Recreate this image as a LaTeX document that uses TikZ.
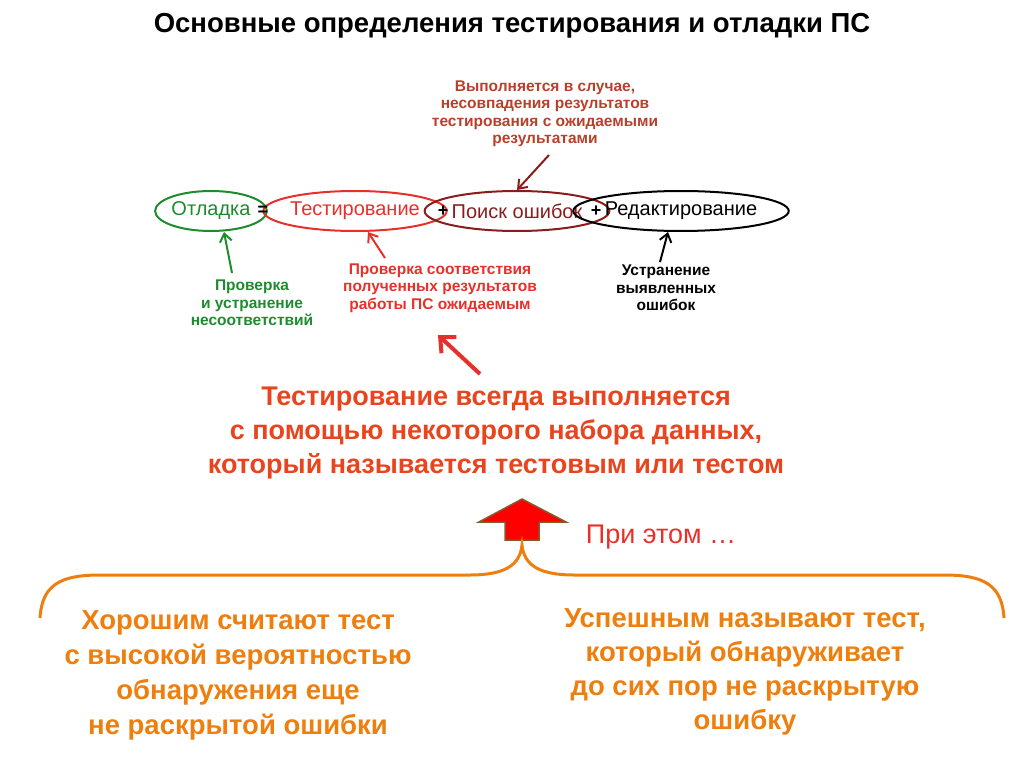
\documentclass[tikz,border=0pt]{standalone}
\usepackage{fontspec}
\setmainfont{Liberation Sans}
\usetikzlibrary{arrows.meta,shapes.geometric}
\definecolor{gr}{HTML}{1E8C2E}
\definecolor{rd}{HTML}{E8302A}
\definecolor{drd}{HTML}{8A1C1C}
\definecolor{ann}{HTML}{B8402A}
\definecolor{mainred}{HTML}{E8441E}
\definecolor{org}{HTML}{EE7F0E}
\tikzset{
 ell/.style={ellipse,draw,line width=2pt,minimum height=40pt,inner sep=0pt,font=\fontsize{20}{20}\selectfont},
 note/.style={align=center,font=\bfseries\fontsize{15.5}{17.5}\selectfont},
 arr/.style={-{Straight Barb[length=8pt,width=12pt]},line width=2pt},
 big/.style={align=center,font=\bfseries\fontsize{27}{34}\selectfont},
}
\begin{document}
\begin{tikzpicture}[x=1pt,y=-1pt]
\useasboundingbox (0,0) rectangle (1024,767);
\node[font=\bfseries\fontsize{27.5}{28}\selectfont] (title) at (512,26) {Основные определения тестирования и отладки ПС};
\node[ell,draw=gr,text=gr,minimum width=78pt] (otl) at (211,211) {Отладка};
\node[ell,draw=rd,text=rd,minimum width=145pt] (test) at (355,211) {Тестирование};
\node[ell,draw=drd,text=drd,minimum width=135pt] (poisk) at (517,211) {Поиск ошибок};
\node[ell,draw=black,minimum width=162pt] (red) at (681,211) {Редактирование};
\node[font=\bfseries\fontsize{18}{18}\selectfont] (eq) at (263,211) {=};
\node[font=\bfseries\fontsize{18}{18}\selectfont] (p1) at (443,211) {+};
\node[font=\bfseries\fontsize{18}{18}\selectfont] (p2) at (596,211) {+};
\node[note,text=ann] (n1) at (545,114) {Выполняется в случае,\\несовпадения результатов\\тестирования с ожидаемыми\\результатами};
\node[note,text=gr] (n2) at (252,303) {Проверка\\и устранение\\несоответствий};
\node[note,text=rd] (n3) at (440,288) {Проверка соответствия\\полученных результатов\\работы ПС ожидаемым};
\node[note] (n4) at (666,288) {Устранение\\выявленных\\ошибок};
\coordinate (a1) at (549,155); \coordinate (a2) at (232,273);
\coordinate (a3) at (385,258); \coordinate (a4) at (660,262);
\draw[arr,drd] (a1) -- (poisk.north);
\draw[arr,gr] (a2) -- ([xshift=13pt]otl.south);
\draw[arr,rd] (a3) -- ([xshift=13pt]test.south);
\draw[arr,black] (a4) -- ([xshift=-13pt]red.south);
\node[big,text=mainred] (main) at (496,433) {Тестирование всегда выполняется\\с помощью некоторого набора данных,\\который называется тестовым или тестом};
\coordinate (bs) at (480,374);
\draw[-{Straight Barb[length=12pt,width=22pt]},line width=4pt,rd] (bs) -- (438,335);
\draw[draw=brown!70!black,fill=red,line width=1.5pt] (522,499) -- (566,522) -- (539,522) -- (539,540) -- (505,540) -- (505,522) -- (479,522) -- cycle;
\coordinate (up) at (522,545);
\node[text=rd,font=\fontsize{27}{27}\selectfont] (pri) at (661,537) {При этом \dots};
\draw[org,line width=3pt] (40,618) .. controls (42,585) and (60,575) .. (100,575) -- (470,575) .. controls (505,575) and (520,565) .. (up) .. controls (524,565) and (539,575) .. (574,575) -- (944,575) .. controls (984,575) and (1002,585) .. (1004,618);
\node[big,text=org,font=\bfseries\fontsize{27.5}{35}\selectfont] (l) at (238,675) {Хорошим считают тест\\с высокой вероятностью\\обнаружения еще\\не раскрытой ошибки};
\node[big,text=org,font=\bfseries\fontsize{27.5}{34}\selectfont] (r) at (745,672) {Успешным называют тест,\\который обнаруживает\\до сих пор не раскрытую\\ошибку};
\end{tikzpicture}
\end{document}
